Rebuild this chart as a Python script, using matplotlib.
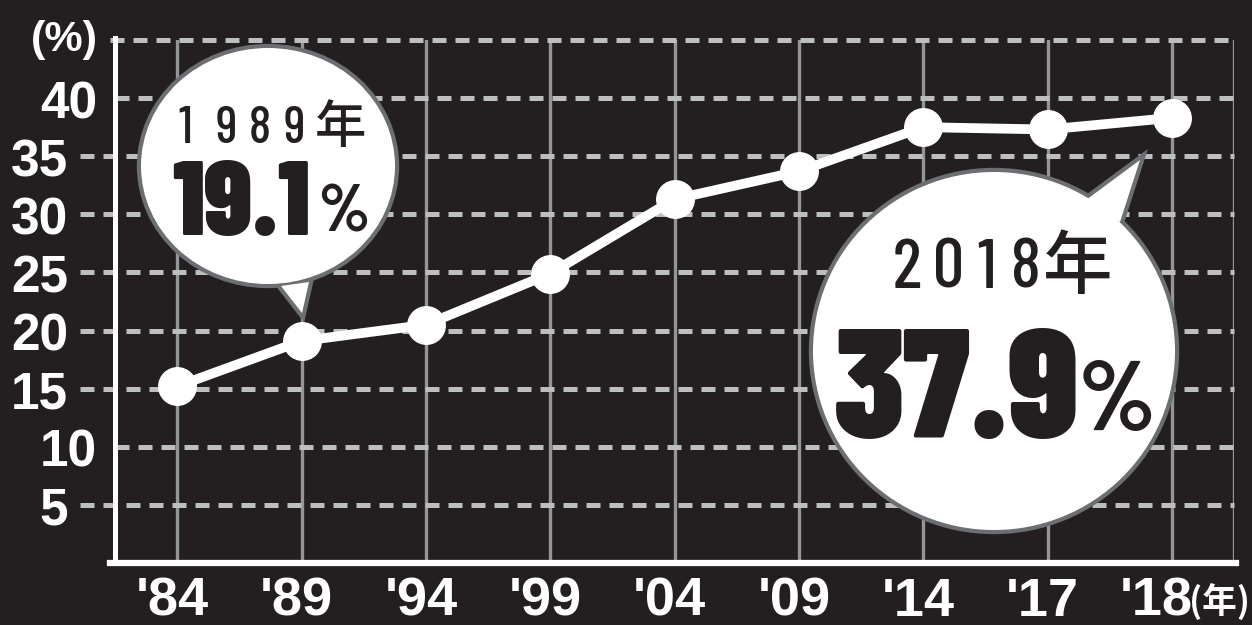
import matplotlib
matplotlib.use("Agg")
import matplotlib.pyplot as plt
import matplotlib.transforms as mtransforms
from matplotlib.patches import Ellipse, Polygon

# data
years = ["'84", "'89", "'94", "'99", "'04", "'09", "'14", "'17", "'18"]
rates = [15.2, 19.1, 20.5, 24.9, 31.3, 33.7, 37.5, 37.3, 38.3]
yticks = [5, 10, 15, 20, 25, 30, 35, 40]
grid_levels = [5, 10, 15, 20, 25, 30, 35, 40, 45]

bg = "#231f20"
dash_col = "#bcbec0"
vline_col = "#939598"
edge_col = "#6d6e71"
ink = "#231f20"
cond = ["Barlow Condensed", "DejaVu Sans"]

W, H = 1252, 625
fig = plt.figure(figsize=(W / 100, H / 100), dpi=100, facecolor=bg)
ax = fig.add_axes([115 / W, 62 / H, 1119 / W, 523 / H], facecolor=bg)
ax.set_xlim(-0.5, 8.5)
ax.set_ylim(0, 45)

trans = mtransforms.blended_transform_factory(ax.transAxes, ax.transData)

# vertical grid lines (categories + right edge)
for i in range(len(years)):
    ax.axvline(i, color=vline_col, lw=2.4, zorder=1)
ax.axvline(8.5, color=vline_col, lw=2.4, zorder=1)

# dashed horizontal lines
for v in grid_levels:
    if v in (10, 40):
        x0 = 0
    elif v == 45:
        x0 = -5 / 1119
    else:
        x0 = -35 / 1119
    ax.plot([x0, 1], [v, v], transform=trans, color=dash_col, lw=3.6,
            linestyle=(0, (2.8, 1.8)), clip_on=False, zorder=2, solid_capstyle="butt")

# y labels (two of them sit further right, like the original)
for v in yticks:
    xr = -18 / 1119 if v in (10, 40) else -47 / 1119
    ax.text(xr, v - 1.72, str(v), transform=trans, ha="right", va="baseline",
            color="white", fontsize=37, fontweight="bold", family="Liberation Sans")

ax.plot(range(len(years)), rates, color="white", lw=7, marker="o", markersize=27,
        zorder=5, clip_on=False)

ax.set_xticks(range(len(years)))
ax.set_xticklabels(years, fontsize=39, fontweight="bold", family="Liberation Sans", color="white")
ax.tick_params(axis="x", length=0, pad=10)
for k, lab in enumerate(ax.get_xticklabels()):
    dx = -16 if k == len(years) - 1 else -5
    lab.set_transform(lab.get_transform() + mtransforms.ScaledTranslation(dx / 100, 0, fig.dpi_scale_trans))
ax.set_yticks([])

for s in ["top", "right"]:
    ax.spines[s].set_visible(False)
ax.spines["left"].set_color("white")
ax.spines["left"].set_linewidth(3.6)
ax.spines["bottom"].set_color("white")
ax.spines["bottom"].set_linewidth(4.5)
ax.spines["bottom"].set_bounds(-0.54, 8.52)
ax.spines["left"].set_bounds(0, 45.2)

fig.text(64 / W, 1 - 40 / H, "(%)", ha="center", va="center", color="white",
         fontsize=31, fontweight="bold", family="Liberation Sans")
fig.text(1219 / W, 1 - 602 / H, "(年)", ha="center", va="center", color="white",
         fontsize=25, fontweight="bold", family=["Noto Sans CJK JP"])

# speech bubbles in pixel coordinates
ov = fig.add_axes([0, 0, 1, 1], facecolor="none")
ov.set_xlim(0, W)
ov.set_ylim(H, 0)
ov.axis("off")
ov.set_zorder(10)


def bubble(cx, cy, w, h, tail):
    e1 = Ellipse((cx, cy), w, h, facecolor="white", edgecolor=edge_col, lw=6)
    t1 = Polygon(tail, closed=True, facecolor="white", edgecolor=edge_col, lw=6, joinstyle="miter")
    e2 = Ellipse((cx, cy), w, h, facecolor="white", edgecolor="none")
    t2 = Polygon(tail, closed=True, facecolor="white", edgecolor="none")
    for p in (e1, t1, e2, t2):
        ov.add_patch(p)


bubble(268, 166, 254, 236, [(281, 286), (302, 313), (309, 282)])
bubble(994, 351, 362, 358, [(1086, 200), (1140, 160), (1120, 222)])


def spaced(chars, centers, base, size, weight="normal"):
    for c, x in zip(chars, centers):
        fam = ["Noto Sans CJK JP"] if c == "年" else cond
        w = "medium" if c == "年" else weight
        ov.text(x, base, c, ha="center", va="baseline", color=ink, fontsize=size,
                fontweight=w, family=fam)


spaced("1989年", [185, 226, 260, 294, 340], 143, 37, "medium")
ov.text(241, 235, "19.1", ha="center", va="baseline", color=ink, fontsize=76,
        fontweight="black", family=cond)
spaced("%", [344], 232, 48, "bold")

spaced("2018年", [907, 949, 987, 1026, 1078], 288, 50, "medium")
ov.text(957, 438, "37.9", ha="center", va="baseline", color=ink, fontsize=111,
        fontweight="black", family=cond)
spaced("%", [1117], 430, 72, "bold")

fig.savefig("out.png", dpi=100, facecolor=bg)
